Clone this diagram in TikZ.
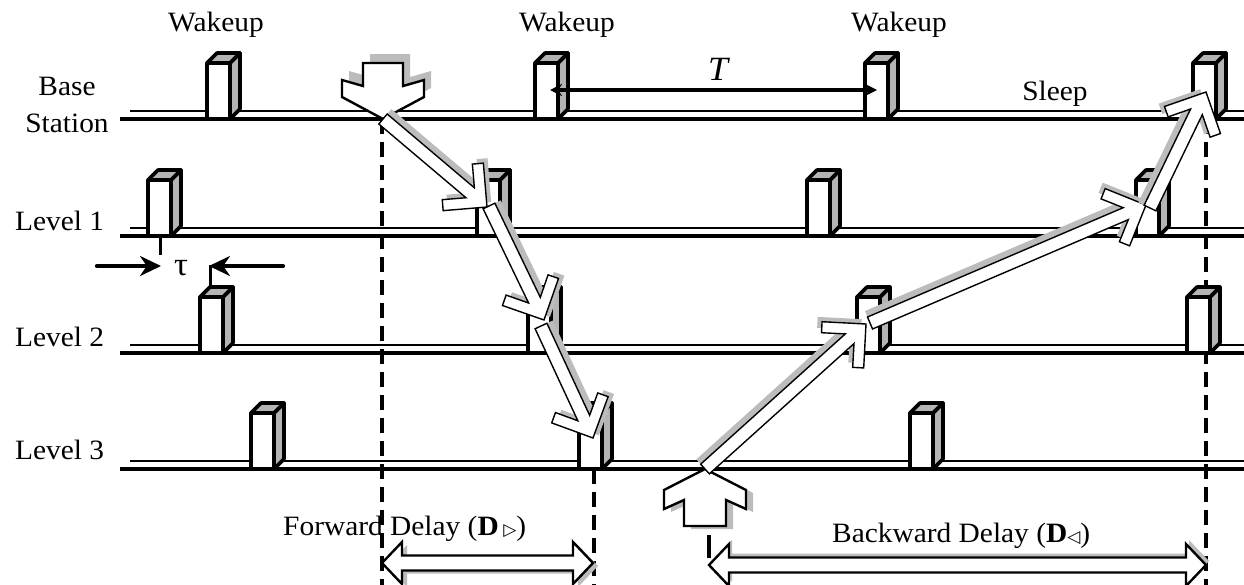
\documentclass[tikz,border=0pt]{standalone}
\usepackage{fontspec}
\setmainfont{Liberation Serif}[FakeStretch=1.05]
\newfontfamily\symfont{DejaVu Sans}
\usetikzlibrary{arrows.meta,calc}

\definecolor{shadowc}{RGB}{188,188,188}
\definecolor{facec}{RGB}{180,180,180}

% frame (origin, angle, length) from two named coordinates
\newcommand\ArFrame[2]{%
  \path let \p1=(#1), \p2=(#2) in \pgfextra{%
    \pgfmathsetmacro\tmpang{atan2(\y2-\y1,\x2-\x1)}\global\let\ArAng\tmpang
    \pgfmathsetmacro\tmplen{veclen(\x2-\x1,\y2-\y1)}\global\let\ArLen\tmplen
    \xdef\ArX{\x1}\xdef\ArY{\y1}};}

\newcommand\flowpath{(0pt,6.5pt) -- ({\ArLen pt-22pt},6.5pt) -- ({\ArLen pt-38.9pt},23.3pt) -- ({\ArLen pt-31.1pt},31.1pt) -- (\ArLen pt,0pt) -- ({\ArLen pt-31.1pt},-31.1pt) -- ({\ArLen pt-38.9pt},-23.3pt) -- ({\ArLen pt-22pt},-6.5pt) -- (0pt,-6.5pt) -- cycle}

\newcommand\flowarrow[2]{%
  \ArFrame{#1}{#2}%
  \begin{scope}[shift={(\ArX,\ArY)}, rotate=\ArAng]
    \fill[shadowc, yshift=6.5pt] \flowpath;
    \draw[line width=1.4pt, line join=miter, fill=white] \flowpath;
  \end{scope}}

\newcommand\delaypath{(0pt,0pt) -- (20pt,21pt) -- (20pt,7.5pt) -- ({\ArLen pt-20pt},7.5pt) -- ({\ArLen pt-20pt},21pt) -- (\ArLen pt,0pt) -- ({\ArLen pt-20pt},-21pt) -- ({\ArLen pt-20pt},-7.5pt) -- (20pt,-7.5pt) -- (20pt,-21pt) -- cycle}

\newcommand\delayarrow[3]{%
  \ArFrame{#1}{#2}%
  \begin{scope}[shift={(\ArX,\ArY)}, rotate=\ArAng]
    \fill[shadowc, shift={#3}] \delaypath;
    \draw[line width=2.4pt, fill=white] \delaypath;
  \end{scope}}

\newcommand\downpath{(0,0) -- (41,-22) -- (41,-39) -- (20,-33) -- (20,-56) -- (-20,-56) -- (-20,-33) -- (-41,-39) -- (-41,-22) -- cycle}
\newcommand\uppath{(0,0) -- (41,21) -- (41,40) -- (21,31) -- (21,57) -- (-21,57) -- (-21,31) -- (-41,40) -- (-41,21) -- cycle}

\newcommand\wakebox[2]{%
  \draw[boxline, fill=facec] ({#1+23},#2) -- ++(10,-10) -- ++(0,-56) -- ++(-10,10) -- cycle;
  \draw[boxline, fill=facec] (#1,{#2-56}) -- ++(10,-10) -- ++(23,0) -- ++(-10,10) -- cycle;
  \draw[boxline, fill=white] (#1,#2) rectangle ++(23,-56);}

\begin{document}
\begin{tikzpicture}[x=1pt,y=-1pt,
  thickl/.style={line width=4.2pt},
  thinl/.style={line width=1.6pt},
  dashl/.style={line width=3.2pt, dash pattern=on 15pt off 8pt},
  boxline/.style={line width=3.6pt, line join=round},
  lbl/.style={font=\fontsize{28}{32}\selectfont, inner sep=0pt},
  tauarrow/.style={line width=4.2pt, line cap=round, -{Stealth[length=21pt,width=20pt]}},
  tick/.style={line width=3pt}]
\useasboundingbox (0,0) rectangle (1244,584);
\fill[white] (0,0) rectangle (1244,584);

% time lines
\foreach \yy in {119,236,353,469}{
  \draw[thinl] (130,{\yy-8}) -- (1244,{\yy-8});
  \draw[thickl] (120,\yy) -- (1244,\yy);
}

% dashed guides
\coordinate (g1a) at (382,119); \coordinate (g1b) at (382,590);
\coordinate (g2a) at (594,469); \coordinate (g2b) at (594,590);
\coordinate (g3a) at (709,535); \coordinate (g3b) at (709,558);
\coordinate (g4a) at (1206,119); \coordinate (g4b) at (1206,590);
\draw[dashl] (g1a) -- (g1b);
\draw[dashl] (g2a) -- (g2b);
\draw[line width=3.2pt] (g3a) -- (g3b);
\draw[dashl] (g4a) -- (g4b);

% wakeup boxes
\foreach \xx in {207,535,865,1193}{\wakebox{\xx}{119}}
\foreach \xx in {148,477,807,1136}{\wakebox{\xx}{236}}
\foreach \xx in {200,528,857,1187}{\wakebox{\xx}{353}}
\foreach \xx in {251,579,910}{\wakebox{\xx}{469}}

% period T
\coordinate (tL) at (550,90); \coordinate (tR) at (877,90);
\draw[line width=3.6pt, {Stealth[length=12pt,width=12pt]}-{Stealth[length=12pt,width=12pt]}] (tL) -- (tR);

% tau
\coordinate (k1a) at (160,237); \coordinate (k1b) at (160,255);
\coordinate (k2a) at (210,265); \coordinate (k2b) at (210,286);
\draw[tick] (k1a) -- (k1b);
\draw[tick] (k2a) -- (k2b);
\coordinate (ta1) at (97,266); \coordinate (ta2) at (161,266);
\coordinate (tb1) at (283,266); \coordinate (tb2) at (209,266);
\draw[tauarrow] (ta1) -- (ta2);
\draw[tauarrow] (tb1) -- (tb2);

% big down arrow at base station
\coordinate (dtip) at (383,119);
\begin{scope}[shift={(dtip)}]
  \fill[shadowc, shift={(7,-9)}] \downpath;
  \draw[line width=2.4pt, fill=white] \downpath;
\end{scope}

% forward arrows
\coordinate (a1e) at (487,207);
\coordinate (a2s) at (489,206); \coordinate (a2e) at (544,320);
\coordinate (a3s) at (541,326); \coordinate (a3e) at (593,438);
\flowarrow{dtip}{a1e}
\flowarrow{a2s}{a2e}
\flowarrow{a3s}{a3e}

% big up arrow at level 3
\coordinate (utip) at (705,469);
\begin{scope}[shift={(utip)}]
  \fill[shadowc, shift={(7,3)}] \uppath;
  \draw[line width=2.4pt, fill=white] \uppath;
\end{scope}

% backward arrows
\coordinate (a4e) at (866,324);
\coordinate (a5s) at (870,323); \coordinate (a5e) at (1146,205);
\coordinate (a6s) at (1150,208); \coordinate (a6e) at (1206,92);
\flowarrow{utip}{a4e}
\flowarrow{a5s}{a5e}
\flowarrow{a6s}{a6e}

% delay arrows
\coordinate (fdL) at (382,563); \coordinate (fdR) at (593,563);
\coordinate (bdL) at (709,565); \coordinate (bdR) at (1206,565);
\delayarrow{fdL}{fdR}{(5pt,-3pt)}
\delayarrow{bdL}{bdR}{(3pt,4pt)}

% labels
\node[lbl, anchor=base] (wk1) at (216,31) {Wakeup};
\node[lbl, anchor=base] (wk2) at (567,31) {Wakeup};
\node[lbl, anchor=base] (wk3) at (899,31) {Wakeup};
\node[font=\fontsize{34}{36}\selectfont\itshape, inner sep=0pt, anchor=base] (Tl) at (718,80) {T};
\node[lbl, anchor=base] (slp) at (1055,100) {Sleep};
\node[lbl, anchor=base] (bs1) at (67,95) {Base};
\node[lbl, anchor=base] (bs2) at (67,132) {Station};
\node[lbl, anchor=base west] (lv1) at (15,230) {Level 1};
\node[lbl, anchor=base west] (lv2) at (15,346) {Level 2};
\node[lbl, anchor=base west] (lv3) at (15,459) {Level 3};
\node[font=\fontsize{33}{36}\selectfont, inner sep=0pt, anchor=base] (tau) at (181,275) {τ};
\node[lbl, anchor=base west] (fwd) at (283,535) {Forward Delay ({\bfseries D}\,{\symfont\fontsize{17}{17}\selectfont ▷})};
\node[lbl, anchor=base west] (bwd) at (832,542) {Backward Delay ({\bfseries D}{\symfont\fontsize{17}{17}\selectfont ◁})};
\end{tikzpicture}
\end{document}
